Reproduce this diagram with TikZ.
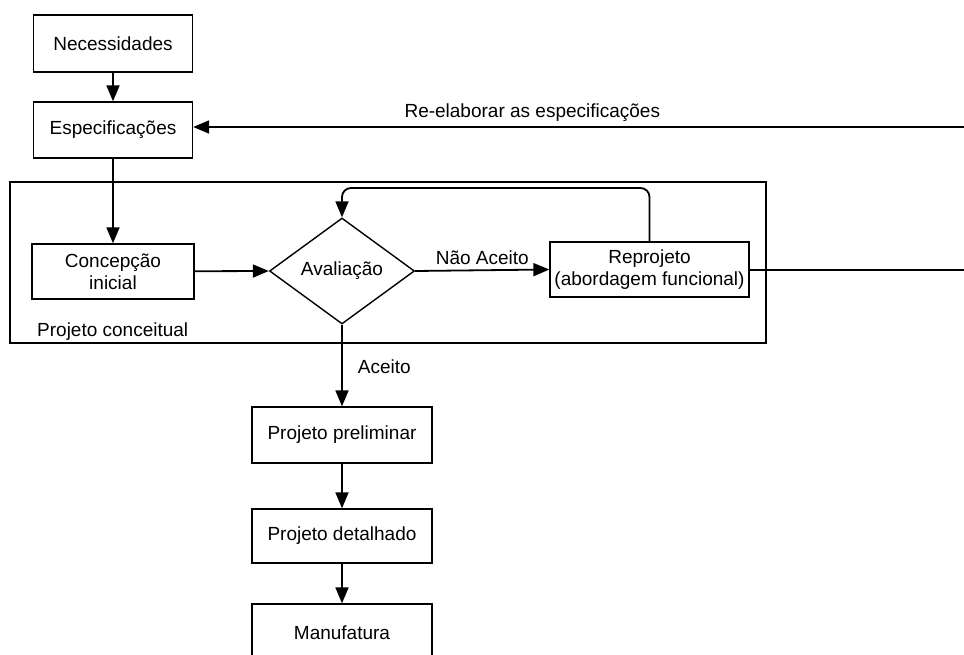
\documentclass[tikz,border=0pt]{standalone}
\usepackage{fontspec}
\setmainfont{Liberation Sans}
\usetikzlibrary{shapes.geometric,arrows.meta}
\begin{document}
\begin{tikzpicture}[x=1pt,y=-1pt,
  every node/.style={font=\fontsize{19}{22}\selectfont},
  stepbox/.style={draw, line width=1.3pt, inner sep=0pt, align=center},
  decision/.style={draw, diamond, line width=1.4pt, inner sep=0pt,
    minimum width=145pt, minimum height=106pt},
  flow/.style={line width=1.8pt, -{Triangle[length=16pt,width=13pt]}},
  plain/.style={line width=1.8pt},
  lbl/.style={inner sep=0pt}]
  \useasboundingbox (0,0) rectangle (964,655);
  \clip (0,0) rectangle (964,655);
  \fill[white] (0,0) rectangle (964,655);

  % conceptual design frame
  \draw[line width=1.3pt] (10,182) rectangle (766,343);
  \node[lbl, anchor=west] (pcl) at (37,332) {Projeto conceitual};

  % process steps
  \node[stepbox, minimum width=159pt, minimum height=57pt] (nec) at (113,43.5) {Necessidades};
  \node[stepbox, minimum width=159pt, minimum height=56pt] (esp) at (113,130) {Especificações};
  \node[stepbox, minimum width=162pt, minimum height=55pt] (conc) at (113,271.5) {Concepção\\inicial};
  \node[decision] (aval) at (342,271) {Avaliação};
  \node[stepbox, minimum width=199pt, minimum height=55pt] (rep) at (649.5,269.5) {Reprojeto\\(abordagem funcional)};
  \node[stepbox, minimum width=180pt, minimum height=56pt] (pre) at (342,435) {Projeto preliminar};
  \node[stepbox, minimum width=180pt, minimum height=54pt] (det) at (342,536) {Projeto detalhado};
  \node[stepbox, minimum width=180pt, minimum height=58pt] (man) at (342,633) {Manufatura};

  % loose ends at the right margin
  \coordinate (outR) at (964,270);
  \coordinate (inR) at (964,127);

  % connectors
  \draw[flow] (nec) -- (esp);
  \draw[flow] (esp) -- (conc);
  \draw[flow] (conc) -- (aval.west);
  \draw[flow] (aval.east) -- node[lbl, above=5pt] (nao) {Não Aceito} (rep.west);
  \draw[flow, rounded corners=9pt] (rep.north) |- (342,188) -- (aval.north);
  \draw[plain] (rep.east |- outR) -- (outR);
  \draw[flow] (inR) -- node[lbl, pos=0.56, above=5pt] (reel) {Re-elaborar as especificações} (esp.east |- inR);
  \draw[flow] (aval.south) -- node[lbl, pos=0.5, right=15pt, yshift=-1pt] (ace) {Aceito} (pre.north);
  \draw[flow] (pre) -- (det);
  \draw[flow] (det) -- (man);
\end{tikzpicture}
\end{document}
